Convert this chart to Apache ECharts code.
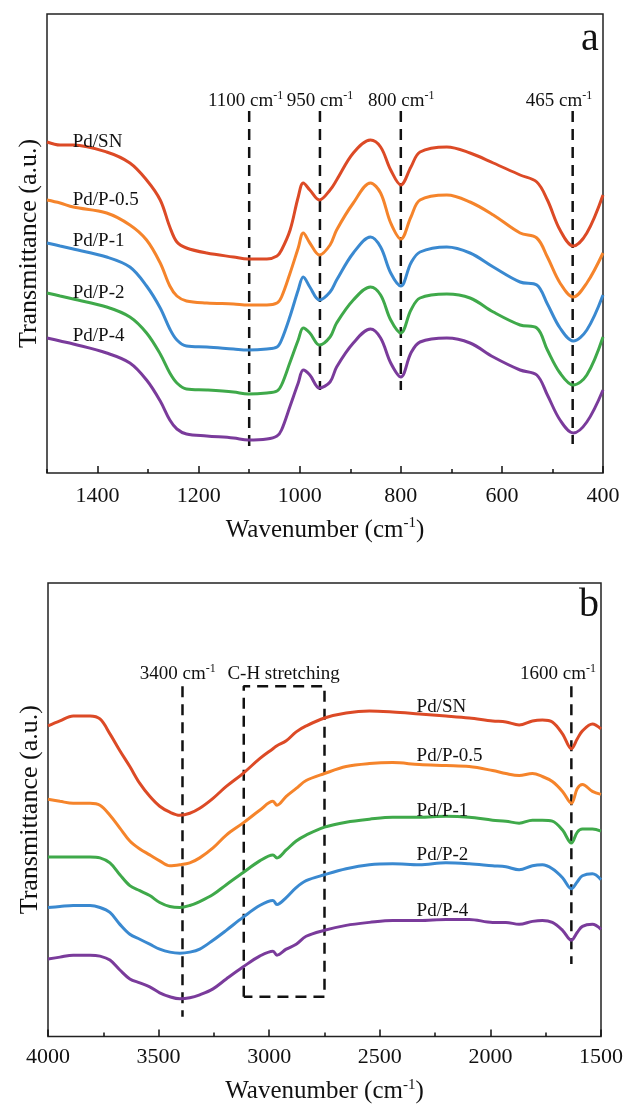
<!DOCTYPE html>
<html>
<head>
<meta charset="utf-8">
<script src="https://cdn.jsdelivr.net/npm/echarts@6/dist/echarts.min.js"></script>
<style>html,body{margin:0;padding:0;background:#fff}#c{width:626px;height:1105px}</style>
</head>
<body>
<div id="c"></div>
<script>
// ---------- data ----------
const samplesA = ['Pd/SN', 'Pd/P-0.5', 'Pd/P-1', 'Pd/P-2', 'Pd/P-4'];
const samplesB = ['Pd/SN', 'Pd/P-0.5', 'Pd/P-1', 'Pd/P-2', 'Pd/P-4'];

// Panel a: 1500-400 cm-1
const waveA = [1500, 1474, 1448, 1382, 1336, 1303, 1276, 1257, 1243, 1224, 1184, 1131, 1102, 1065, 1045, 1036, 1019, 1003, 993, 980, 961, 940, 927, 894, 860, 840, 820, 800, 780, 762, 709, 663, 617, 564, 531, 510, 485, 459, 432, 400];
const aSN  = [331, 328, 328, 321, 310, 293, 273, 246, 231, 225, 220, 216, 214, 214, 217, 223, 243, 276, 290, 283, 273, 283, 293, 320, 333, 326, 303, 288, 306, 321, 326, 320, 310, 298, 291, 273, 243, 227, 240, 278];
const aP05 = [273, 270, 266, 260, 248, 233, 210, 187, 177, 172, 170, 169, 168, 168, 170, 176, 200, 225, 240, 230, 218, 228, 243, 270, 290, 280, 250, 234, 256, 273, 278, 271, 258, 240, 235, 216, 190, 176, 190, 220];
const aP1  = [230, 227, 224, 216, 206, 187, 165, 144, 133, 127, 126, 124, 123, 124, 126, 133, 157, 183, 196, 186, 173, 181, 193, 220, 236, 226, 200, 187, 210, 221, 226, 220, 206, 191, 188, 169, 145, 132, 143, 178];
const aP2  = [180, 177, 174, 166, 156, 140, 119, 100, 90, 84, 83, 81, 79, 80, 82, 88, 111, 133, 145, 140, 128, 136, 150, 173, 186, 178, 153, 140, 163, 175, 179, 175, 161, 148, 145, 123, 100, 88, 98, 136];
const aP4  = [135, 132, 129, 120, 110, 93, 72, 53, 44, 39, 37, 35, 33, 34, 37, 43, 67, 90, 103, 98, 85, 91, 106, 130, 144, 135, 110, 96, 120, 131, 135, 130, 116, 103, 98, 78, 53, 40, 51, 83];

// Panel b: 4000-1500 cm-1
const waveB = [4000, 3946, 3886, 3810, 3765, 3720, 3675, 3630, 3585, 3540, 3495, 3449, 3404, 3359, 3314, 3254, 3194, 3119, 3043, 2983, 2965, 2923, 2878, 2833, 2750, 2652, 2547, 2442, 2321, 2201, 2096, 1990, 1930, 1870, 1810, 1765, 1720, 1674, 1634, 1607, 1584, 1539, 1500];
const bSN  = [313, 318, 323, 323, 320, 305, 288, 272, 255, 242, 232, 226, 223, 225, 230, 240, 252, 265, 280, 290, 293, 298, 307, 313, 321, 326, 328, 327, 325, 323, 321, 318, 317, 314, 318, 319, 317, 305, 290, 300, 308, 315, 310];
const bP05 = [239, 237, 235, 235, 233, 223, 210, 197, 189, 183, 177, 172, 173, 175, 180, 190, 203, 215, 228, 237, 233, 242, 250, 258, 265, 272, 275, 276, 274, 273, 272, 268, 265, 263, 265, 262, 257, 247, 235, 250, 254, 247, 244];
const bP1  = [181, 181, 181, 181, 180, 175, 163, 152, 147, 142, 135, 131, 130, 132, 136, 143, 153, 165, 177, 183, 180, 188, 197, 203, 211, 216, 219, 221, 221, 222, 221, 218, 217, 215, 218, 218, 217, 208, 195, 206, 209, 209, 207];
const bP2  = [130, 131, 132, 132, 130, 125, 113, 103, 98, 93, 88, 85, 84, 85, 88, 97, 107, 120, 132, 137, 133, 140, 150, 157, 163, 169, 173, 174, 173, 175, 174, 172, 171, 168, 172, 173, 169, 160, 149, 156, 162, 164, 158];
const bP4  = [78, 80, 82, 82, 81, 77, 67, 58, 54, 50, 44, 40, 38, 39, 42, 48, 58, 70, 81, 86, 82, 88, 93, 101, 107, 112, 115, 117, 117, 118, 118, 115, 115, 113, 116, 117, 115, 107, 97, 105, 111, 113, 108];

// axis ticks
const ticksA = {min: 400, max: 1500, major: 200, minor: 100};
const ticksB = {min: 1500, max: 4000, major: 500, minor: 250};

// annotations (text and data-unit anchors)
const annoTextA = ['1100', '950', '800', '465'];
const annoTextXA = [1107, 960, 799, 487];
const annoTextYA = 372;
const annoLineXA = [1100, 960, 800, 460];
const annoLineTopA = 362;
const annoLineBottomA = [26, 83, 83, 29];

const annoTextB = ['3400', 'C-H stretching', '1600'];
const annoTextXB = [3413, 2935, 1694];
const annoTextYB = 365;
const annoLineXB = [3392, 1634];
const annoLineTopB = 353;
const annoLineBottomB = [20, 73];
const chBoxX = [3115, 2750];
const chBoxY = [40, 353];

const nameXA = 1450;
const nameYA = [331, 273, 232, 180, 137];
const nameXB = 2336;
const nameYB = [332, 283, 227, 183, 126];

// ---------- styles ----------
const F = '"Liberation Serif","Times New Roman",serif';
const INK = '#111';
const colorsA = ['#dc4a26', '#f5842b', '#3a89d0', '#3fa94a', '#7a3b9b'];
const colorsB = ['#dc4a26', '#f5842b', '#3fa94a', '#3a89d0', '#7a3b9b'];

const supRich = (fs, lh, sfs) => ({
  n: {fontSize: fs, fontFamily: F, color: INK, lineHeight: lh},
  s: {fontSize: sfs, fontFamily: F, color: INK, lineHeight: sfs, verticalAlign: 'top'}
});

function curve(name, wave, vals, color, xi, yi) {
  return {
    type: 'line', name, xAxisIndex: xi, yAxisIndex: yi,
    data: wave.map((w, i) => [w, vals[i]]),
    showSymbol: false, smooth: 0.35, silent: true, z: 3,
    lineStyle: {color, width: 3}, itemStyle: {color}
  };
}
function dashed(pts, xi, yi) {
  return {
    type: 'line', xAxisIndex: xi, yAxisIndex: yi, data: pts,
    showSymbol: false, silent: true, z: 2, smooth: false,
    lineStyle: {color: INK, width: 2.5, type: [11, 7]}
  };
}
function textLayer(items, xi, yi, position, fs) {
  return {
    type: 'scatter', xAxisIndex: xi, yAxisIndex: yi, silent: true, z: 6,
    symbolSize: 1, itemStyle: {color: 'rgba(0,0,0,0)', opacity: 1},
    label: {show: true, position, distance: 0, formatter: p => p.data.label, opacity: 1,
            fontSize: fs, fontFamily: F, color: INK, rich: supRich(fs, fs + 3, 12)},
    data: items
  };
}
function xMain(gi, t, gap, margin, showMax) {
  return {
    gridIndex: gi, type: 'value', position: 'bottom', inverse: true, min: t.min, max: t.max, interval: t.major,
    axisLine: {show: false}, splitLine: {show: false},
    axisTick: {show: true, inside: true, length: 7, lineStyle: {color: INK, width: 1.5}},
    axisLabel: {fontSize: 22, fontFamily: F, color: INK, margin, showMaxLabel: showMax, showMinLabel: true,
                formatter: v => String(v)},
    name: '{n|Wavenumber (cm}{s|-1}{n|)}', nameLocation: 'middle', nameGap: gap,
    nameTextStyle: {rich: supRich(25, 28, 15)}
  };
}
function xMinor(gi, t) {
  return {
    gridIndex: gi, type: 'value', position: 'bottom', offset: 0, inverse: true, min: t.min, max: t.max, interval: t.minor,
    axisLine: {show: false}, splitLine: {show: false}, axisLabel: {show: false},
    axisTick: {show: true, inside: true, length: 4, lineStyle: {color: INK, width: 1.5}}
  };
}
function yAx(gi, max) {
  return {
    gridIndex: gi, type: 'value', min: 0, max,
    axisLine: {show: false}, axisTick: {show: false}, axisLabel: {show: false}, splitLine: {show: false},
    name: 'Transmittance (a.u.)', nameLocation: 'middle', nameGap: 5,
    nameTextStyle: {fontSize: 26, fontFamily: F, color: INK}
  };
}

const valsA = [aSN, aP05, aP1, aP2, aP4];
const valsB = [bSN, bP05, bP1, bP2, bP4];

const series = [];
// panel a
valsA.forEach((v, i) => series.push(curve(samplesA[i], waveA, v, colorsA[i], 0, 0)));
annoLineXA.forEach((x, i) => series.push(dashed([[x, annoLineTopA], [x, annoLineBottomA[i]]], 0, 0)));
series.push(textLayer(samplesA.map((s, i) => ({value: [nameXA, nameYA[i]], label: s})), 0, 0, 'right', 19));
series.push(textLayer(annoTextA.map((s, i) => ({value: [annoTextXA[i], annoTextYA], label: '{n|' + s + ' cm}{s|-1}'})), 0, 0, 'inside', 19));
// panel b
valsB.forEach((v, i) => series.push(curve(samplesB[i], waveB, v, colorsB[i], 2, 1)));
annoLineXB.forEach((x, i) => series.push(dashed([[x, annoLineTopB], [x, annoLineBottomB[i]]], 2, 1)));
series.push(dashed([[chBoxX[0], chBoxY[0]], [chBoxX[0], chBoxY[1]], [chBoxX[1], chBoxY[1]], [chBoxX[1], chBoxY[0]], [chBoxX[0], chBoxY[0]]], 2, 1));
series.push(textLayer(samplesB.map((s, i) => ({value: [nameXB, nameYB[i]], label: s})), 2, 1, 'right', 19));
series.push(textLayer(annoTextB.map((s, i) => ({value: [annoTextXB[i], annoTextYB],
  label: /^\d+$/.test(s) ? '{n|' + s + ' cm}{s|-1}' : '{n|' + s + '}'})), 2, 1, 'inside', 19));

const chart = echarts.init(document.getElementById('c'), null, {renderer: 'canvas'});
chart.setOption({
  animation: false,
  backgroundColor: '#fff',
  grid: [
    {left: 47, top: 14, width: 556, height: 459, show: true, borderColor: '#222', borderWidth: 1.5, backgroundColor: 'transparent'},
    {left: 48, top: 583, width: 554, height: 457, show: true, borderColor: '#222', borderWidth: 1.5, backgroundColor: 'transparent'}
  ],
  xAxis: [xMain(0, ticksA, 43, 12, false), xMinor(0, ticksA), xMain(1, ticksB, 41, 10, true), xMinor(1, ticksB)],
  yAxis: [yAx(0, 459), yAx(1, 457)],
  graphic: [
    {type: 'text', left: 581, top: 19, style: {text: 'a', fontSize: 40, fontFamily: F, fill: INK}},
    {type: 'text', left: 579, top: 585, style: {text: 'b', fontSize: 40, fontFamily: F, fill: INK}}
  ],
  series
});
</script>
</body>
</html>
